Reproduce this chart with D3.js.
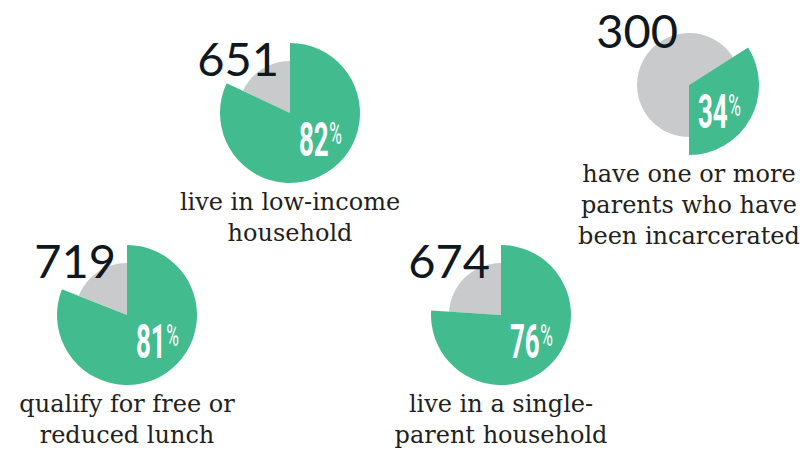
<!DOCTYPE html>
<html>
<head>
<meta charset="utf-8">
<script src="https://cdn.jsdelivr.net/npm/d3@7/dist/d3.min.js"></script>
<style>
  html, body { margin: 0; padding: 0; background: #ffffff; }
  svg { display: block; }
</style>
</head>
<body>
<svg id="chart" width="802" height="449"></svg>
<script>
// Student profile figures: a count, a share (percent) and a caption for each
const counts = [651, 300, 719, 674];
const shares = [82, 34, 81, 76];
const captions = [
  ["live in low-income", "household"],
  ["have one or more", "parents who have", "been incarcerated"],
  ["qualify for free or", "reduced lunch"],
  ["live in a single-", "parent household"]
];

// Placement of each pie on the page
const layout = [
  { cx: 290, cy: 113, anchorEnd: false },
  { cx: 689, cy: 85,  anchorEnd: true  },
  { cx: 127, cy: 315, anchorEnd: false },
  { cx: 501, cy: 315, anchorEnd: false }
];

const GREEN = "#42bc8e";
const GREY = "#c9cacb";
const INK = "#0f1821";
const CAPTION = "#231f20";

const rOuter = 70;   // highlighted share
const rRest = 52;    // remainder

const svg = d3.select("#chart");

const arcShare = d3.arc().innerRadius(0).outerRadius(rOuter);
const arcRest = d3.arc().innerRadius(0).outerRadius(rRest);

// Angle scale: percent -> radians
const angle = d3.scaleLinear().domain([0, 100]).range([0, 2 * Math.PI]);

shares.forEach((p, i) => {
  const L = layout[i];
  const g = svg.append("g").attr("transform", `translate(${L.cx},${L.cy})`);

  // Share wedge either starts at 12 o'clock or ends at 6 o'clock
  const s0 = L.anchorEnd ? Math.PI - angle(p) : 0;
  const s1 = s0 + angle(p);

  g.append("path")
    .attr("d", arcRest({ startAngle: s1, endAngle: s0 + 2 * Math.PI }))
    .attr("fill", GREY);

  g.append("path")
    .attr("d", arcShare({ startAngle: s0, endAngle: s1 }))
    .attr("fill", GREEN);

  // Count above the pie, right-aligned just left of centre
  g.append("text")
    .attr("x", -11)
    .attr("y", -37)
    .attr("text-anchor", "end")
    .attr("font-family", "Lato, 'Noto Sans', sans-serif")
    .attr("font-weight", 400)
    .attr("font-size", 47)
    .attr("fill", INK)
    .text(counts[i]);

  // Condensed percentage inside the wedge
  const pct = g.append("g")
    .attr("transform", "translate(9,43) scale(0.54,1)")
    .append("text")
    .attr("font-family", "Roboto, 'DejaVu Sans Condensed', sans-serif")
    .attr("fill", "#ffffff");
  pct.append("tspan")
    .attr("font-weight", 700)
    .attr("font-size", 48)
    .text(p);
  pct.append("tspan")
    .attr("font-weight", 400)
    .attr("font-size", 32)
    .attr("dx", 1)
    .attr("dy", -12)
    .text("%");

  // Caption below the pie
  const cap = g.append("text")
    .attr("text-anchor", "middle")
    .attr("font-family", "'DejaVu Serif', serif")
    .attr("font-size", 24)
    .attr("fill", CAPTION);
  captions[i].forEach((line, j) => {
    cap.append("tspan")
      .attr("x", 0)
      .attr("y", 97 + j * 31)
      .text(line);
  });
});
</script>
</body>
</html>
